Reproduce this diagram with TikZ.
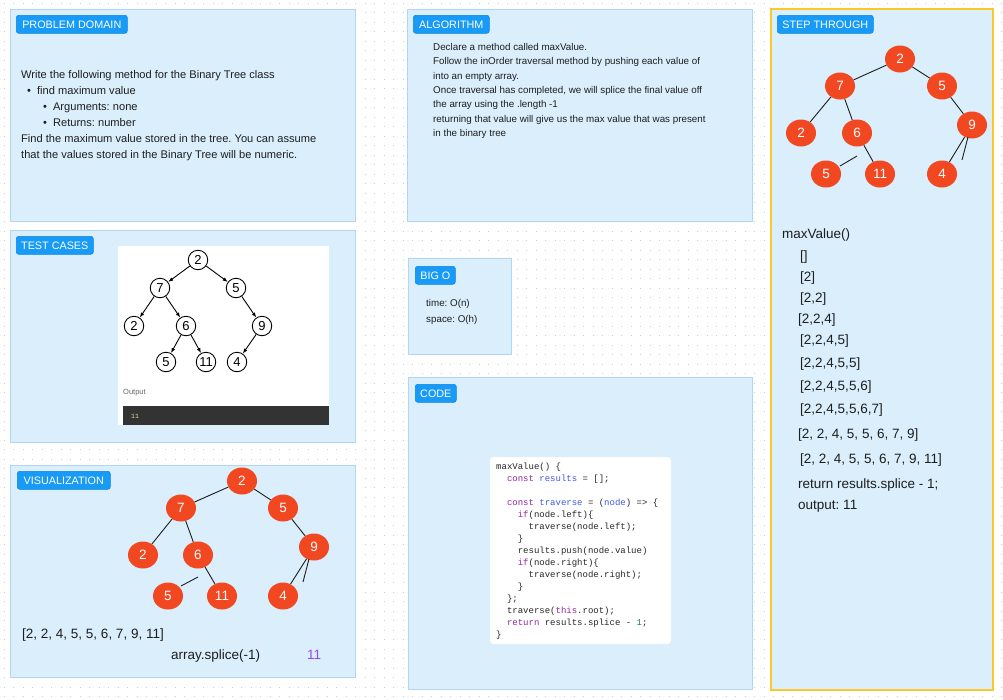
\documentclass[tikz,border=0pt]{standalone}
\usepackage{fontspec}
\setmainfont{Liberation Sans}
\setmonofont{Liberation Mono}
\usetikzlibrary{arrows.meta,shapes.geometric}
\frenchspacing

\definecolor{panelfill}{RGB}{218,238,252}
\definecolor{panelline}{RGB}{176,214,244}
\definecolor{badgefill}{RGB}{24,154,247}
\definecolor{badgeline}{RGB}{12,132,228}
\definecolor{treered}{RGB}{242,72,34}
\definecolor{ink}{RGB}{30,30,30}
\definecolor{dotgray}{RGB}{205,205,205}
\definecolor{stepyellow}{RGB}{252,200,40}
\definecolor{accent}{RGB}{151,71,255}
\definecolor{kw}{RGB}{150,40,160}
\definecolor{var}{RGB}{66,88,235}
\definecolor{num}{RGB}{20,130,105}
\definecolor{codeink}{RGB}{40,40,40}
\definecolor{termbg}{RGB}{51,51,51}
\definecolor{termtext}{RGB}{225,215,160}

\begin{document}
\begin{tikzpicture}[x=1pt,y=-1pt,
  panel/.style={draw=panelline, fill=panelfill, line width=0.8pt},
  badge/.style={draw=badgeline, fill=badgefill, rounded corners=2.5pt, text=white,
    font=\fontsize{10.8}{12}\selectfont, minimum height=18pt, inner sep=0pt,
    anchor=north west, line width=0.6pt},
  pdtext/.style={anchor=west, inner sep=0pt, text=ink,
    font=\fontsize{11.1}{13}\selectfont, text height=8pt, text depth=0.9pt},
  smalltext/.style={anchor=west, inner sep=0pt, text=ink,
    font=\fontsize{9.8}{12}\selectfont, text height=7.1pt, text depth=0.8pt},
  bigtext/.style={anchor=west, inner sep=0pt, text=ink,
    font=\fontsize{13.5}{15}\selectfont, text height=9.7pt, text depth=1.1pt},
  codetext/.style={anchor=west, inner sep=0pt, text=codeink,
    font=\fontsize{9}{12}\ttfamily, text height=6.5pt, text depth=0.7pt},
  redball/.style={ellipse, fill=treered, text=white, minimum width=30pt,
    minimum height=27pt, inner sep=0pt, font=\fontsize{13.5}{15}\selectfont},
  edge/.style={draw=ink, line width=0.9pt},
  plainball/.style={circle, draw=black, fill=white, line width=0.9pt,
    minimum size=19.5pt, inner sep=0pt, font=\fontsize{13}{14}\selectfont},
  arrowedge/.style={draw=black, line width=0.9pt, -{Latex[length=5pt,width=3.8pt]}}
]
\useasboundingbox (0,0) rectangle (1003,699);
\fill[white] (0,0) rectangle (1003,699);

% dotted canvas
\foreach \k in {0,...,73}
  \draw[dotgray, line width=1pt, dash pattern=on 1pt off 8.5pt]
    (3.5,{3.2+9.5*\k}) -- (1003,{3.2+9.5*\k});

% panels
\path[panel] (10,9) rectangle (355,221);
\path[panel] (407,9) rectangle (752,221);
\path[panel] (10,230) rectangle (355,442);
\path[panel] (408,258) rectangle (511,354);
\path[panel] (408,377) rectangle (752,689);
\path[panel] (10,465) rectangle (355,677);
\path[fill=panelfill, draw=stepyellow, line width=2pt] (771,9) rectangle (993,690);

% section badges
\node[badge, minimum width=111pt] (bpd) at (16,15) {PROBLEM DOMAIN};
\node[badge, minimum width=76pt] (balg) at (413,15) {ALGORITHM};
\node[badge, minimum width=77pt] (btc) at (16,236) {TEST CASES};
\node[badge, minimum width=40pt] (bbig) at (415,266) {BIG O};
\node[badge, minimum width=41pt] (bcode) at (415,384) {CODE};
\node[badge, minimum width=93pt] (bvis) at (17,471) {VISUALIZATION};
\node[badge, minimum width=96pt] (bstep) at (777,15) {STEP THROUGH};

% problem domain
\node[pdtext] (pd1) at (21,75) {Write the following method for the Binary Tree class};
\node[pdtext] (pd2) at (27,91) {\textbullet\hspace{6pt}find maximum value};
\node[pdtext] (pd3) at (43,107) {\textbullet\hspace{6pt}Arguments: none};
\node[pdtext] (pd4) at (43,123) {\textbullet\hspace{6pt}Returns: number};
\node[pdtext] (pd5) at (21,139) {Find the maximum value stored in the tree. You can assume};
\node[pdtext] (pd6) at (21,155) {that the values stored in the Binary Tree will be numeric.};

% algorithm
\node[smalltext] (al1) at (433,47) {Declare a method called maxValue.};
\node[smalltext] (al2) at (433,61) {Follow the inOrder traversal method by pushing each value of};
\node[smalltext] (al3) at (433,76) {into an empty array.};
\node[smalltext] (al4) at (433,90) {Once traversal has completed, we will splice the final value off};
\node[smalltext] (al5) at (433,104) {the array using the .length -1};
\node[smalltext] (al6) at (433,119) {returning that value will give us the max value that was present};
\node[smalltext] (al7) at (433,133) {in the binary tree};

% big O
\node[smalltext] (bo1) at (426,303) {time: O(n)};
\node[smalltext] (bo2) at (426,319) {space: O(h)};

% test case picture
\path[fill=white] (118,246) rectangle (329,425);
\node[plainball] (t2a) at (198,260) {2};
\node[plainball] (t7) at (160,288) {7};
\node[plainball] (t5a) at (236,288) {5};
\node[plainball] (t2b) at (134,326) {2};
\node[plainball] (t6) at (186,326) {6};
\node[plainball] (t9) at (262,326) {9};
\node[plainball] (t5b) at (166,362) {5};
\node[plainball] (t11) at (206,362) {11};
\node[plainball] (t4) at (237,362) {4};
\draw[arrowedge] (t2a) -- (t7);
\draw[arrowedge] (t2a) -- (t5a);
\draw[arrowedge] (t7) -- (t2b);
\draw[arrowedge] (t7) -- (t6);
\draw[arrowedge] (t5a) -- (t9);
\draw[arrowedge] (t6) -- (t5b);
\draw[arrowedge] (t6) -- (t11);
\draw[arrowedge] (t9) -- (t4);
\node[anchor=west, inner sep=0pt, text=black!60, font=\fontsize{7.5}{9}\selectfont] (tout) at (123,393) {Output};
\path[fill=termbg] (123,406) rectangle (329,425);
\node[anchor=west, inner sep=0pt, text=termtext, font=\fontsize{6.5}{8}\ttfamily] (tres) at (131,416) {11};

% visualization tree
\node[redball] (v2a) at (242,481) {2};
\node[redball] (v7) at (181,508) {7};
\node[redball] (v5a) at (283,508) {5};
\node[redball] (v2b) at (143,555) {2};
\node[redball] (v6) at (198,555) {6};
\node[redball] (v9) at (314,547) {9};
\node[redball] (v5b) at (168,596) {5};
\node[redball] (v11) at (222,596) {11};
\node[redball] (v4) at (283,596) {4};
\draw[edge] (v2a) -- (v7);
\draw[edge] (v2a) -- (v5a);
\draw[edge] (v7) -- (v2b);
\draw[edge] (v7) -- (v6);
\draw[edge] (v6) -- (v11);
\draw[edge] (v5a) -- (v9);
\draw[edge] (v9) -- (v4);
\coordinate (vs1) at (181,586);
\coordinate (vs2) at (198,577);
\coordinate (vs3) at (309,559);
\coordinate (vs4) at (303,582);
\draw[edge] (vs1) -- (vs2);
\draw[edge] (vs3) -- (vs4);
\node[bigtext] (varr) at (22,634) {[2, 2, 4, 5, 5, 6, 7, 9, 11]};
\node[bigtext] (vspl) at (171,655) {array.splice(-1)};
\node[bigtext, text=accent] (vres) at (307,655) {11};

% code listing
\path[fill=white, draw=black!6, rounded corners=3pt] (490,457) rectangle (671,644);
\node[codetext] (c1) at (496,467) {maxValue() \{};
\node[codetext] (c2) at (506.8,479) {\textcolor{kw}{const} \textcolor{var}{results} = [];};
\node[codetext] (c4) at (506.8,503) {\textcolor{kw}{const} \textcolor{var}{traverse} = (\textcolor{var}{node}) => \{};
\node[codetext] (c5) at (517.6,515) {\textcolor{kw}{if}(node.left)\{};
\node[codetext] (c6) at (528.4,527) {traverse(node.left);};
\node[codetext] (c7) at (517.6,539) {\}};
\node[codetext] (c8) at (517.6,551) {results.push(node.value)};
\node[codetext] (c9) at (517.6,563) {\textcolor{kw}{if}(node.right)\{};
\node[codetext] (c10) at (528.4,575) {traverse(node.right);};
\node[codetext] (c11) at (517.6,587) {\}};
\node[codetext] (c12) at (506.8,599) {\};};
\node[codetext] (c13) at (506.8,611) {traverse(\textcolor{kw}{this}.root);};
\node[codetext] (c14) at (506.8,623) {\textcolor{kw}{return} results.splice - \textcolor{num}{1};};
\node[codetext] (c15) at (496,635) {\}};

% step-through tree
\node[redball] (s2a) at (900,59) {2};
\node[redball] (s7) at (840,86) {7};
\node[redball] (s5a) at (942,86) {5};
\node[redball] (s2b) at (801,133) {2};
\node[redball] (s6) at (857,133) {6};
\node[redball] (s9) at (972,125) {9};
\node[redball] (s5b) at (826,174) {5};
\node[redball] (s11) at (880,174) {11};
\node[redball] (s4) at (942,174) {4};
\draw[edge] (s2a) -- (s7);
\draw[edge] (s2a) -- (s5a);
\draw[edge] (s7) -- (s2b);
\draw[edge] (s7) -- (s6);
\draw[edge] (s6) -- (s11);
\draw[edge] (s5a) -- (s9);
\draw[edge] (s9) -- (s4);
\coordinate (ss1) at (840,166);
\coordinate (ss2) at (857,156);
\coordinate (ss3) at (968,137);
\coordinate (ss4) at (962,160);
\draw[edge] (ss1) -- (ss2);
\draw[edge] (ss3) -- (ss4);

% step-through trace
\node[bigtext] (st0) at (782,234) {maxValue()};
\node[bigtext] (st1) at (800,256) {[]};
\node[bigtext] (st2) at (800,277) {[2]};
\node[bigtext] (st3) at (800,298) {[2,2]};
\node[bigtext] (st4) at (798,319) {[2,2,4]};
\node[bigtext] (st5) at (800,340) {[2,2,4,5]};
\node[bigtext] (st6) at (800,363) {[2,2,4,5,5]};
\node[bigtext] (st7) at (800,386) {[2,2,4,5,5,6]};
\node[bigtext] (st8) at (800,409) {[2,2,4,5,5,6,7]};
\node[bigtext] (st9) at (798,434) {[2, 2, 4, 5, 5, 6, 7, 9]};
\node[bigtext] (st10) at (800,459) {[2, 2, 4, 5, 5, 6, 7, 9, 11]};
\node[bigtext] (st11) at (798,484) {return results.splice - 1;};
\node[bigtext] (st12) at (798,505) {output: 11};
\end{tikzpicture}
\end{document}
